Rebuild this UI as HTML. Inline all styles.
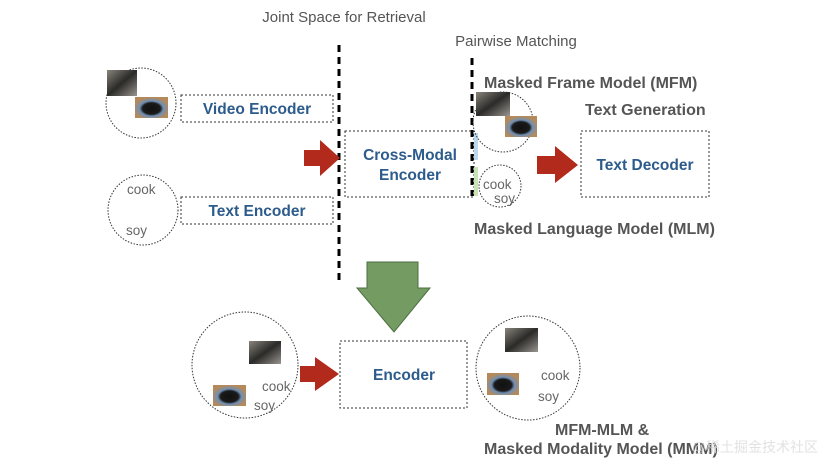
<!DOCTYPE html>
<html><head><meta charset="utf-8"><style>
body{margin:0;background:#fff;}
svg{display:block;font-family:"Liberation Sans",Arial,sans-serif;}
.b{font-weight:bold;fill:#2c5b8c;font-size:15.5px;}
.g{font-weight:bold;fill:#555;font-size:16px;}
.w{fill:#666;font-size:13.5px;}
</style></head><body>
<svg width="831" height="472" viewBox="0 0 831 472">
<defs>
<linearGradient id="i1" x1="0" y1="0" x2="1" y2="1"><stop offset="0" stop-color="#8a857c"/><stop offset=".5" stop-color="#2a2a28"/><stop offset="1" stop-color="#9a9590"/></linearGradient>
<radialGradient id="i2" cx=".5" cy=".55" r=".6"><stop offset="0" stop-color="#111"/><stop offset=".45" stop-color="#1a1a1a"/><stop offset=".6" stop-color="#6f8fb5"/><stop offset=".9" stop-color="#b58a5a"/></radialGradient>
</defs>
<text x="344" y="22" text-anchor="middle" fill="#555" font-size="15">Joint Space for Retrieval</text>
<text x="516" y="46" text-anchor="middle" fill="#555" font-size="15">Pairwise Matching</text>
<line x1="339" y1="45" x2="339" y2="282" stroke="#000" stroke-width="3" stroke-dasharray="7,5"/>
<line x1="472" y1="58" x2="472" y2="196" stroke="#000" stroke-width="3" stroke-dasharray="7,5"/>
<circle cx="141" cy="103" r="35" fill="none" stroke="#333" stroke-dasharray="1.5,1.5"/>
<rect x="107" y="70" width="30" height="26" fill="url(#i1)"/>
<rect x="135" y="97" width="33" height="21" fill="url(#i2)"/>
<rect x="181" y="95" width="152" height="27" fill="none" stroke="#333" stroke-dasharray="2,2"/>
<text x="257" y="114" text-anchor="middle" class="b">Video Encoder</text>
<circle cx="143" cy="210" r="35" fill="none" stroke="#333" stroke-dasharray="1.5,1.5"/>
<text x="127" y="194" class="w">cook</text><text x="126" y="235" class="w">soy</text>
<rect x="181" y="197" width="152" height="27" fill="none" stroke="#333" stroke-dasharray="2,2"/>
<text x="257" y="216" text-anchor="middle" class="b">Text Encoder</text>
<polygon points="304,150 320,150 320,140 340,158 320,176 320,166 304,166" fill="#b22a1c"/>
<rect x="345" y="131" width="129" height="66" fill="none" stroke="#333" stroke-dasharray="2,2"/>
<text x="410" y="160" text-anchor="middle" class="b">Cross-Modal</text>
<text x="410" y="180" text-anchor="middle" class="b">Encoder</text>
<rect x="474" y="133" width="4" height="27" fill="#bcd8ef"/>
<rect x="474" y="167" width="4" height="29" fill="#c9e2b6"/>
<text x="484" y="88" class="g">Masked Frame Model (MFM)</text>
<circle cx="503" cy="122" r="30" fill="none" stroke="#333" stroke-dasharray="1.5,1.5"/>
<rect x="476" y="92" width="34" height="24" fill="url(#i1)"/>
<rect x="505" y="116" width="32" height="21" fill="url(#i2)"/>
<circle cx="500" cy="186" r="21" fill="none" stroke="#333" stroke-dasharray="1.5,1.5"/>
<text x="483" y="189" class="w">cook</text><text x="494" y="203" class="w">soy</text>
<text x="585" y="115" class="g">Text Generation</text>
<polygon points="537,156 555,156 555,146 578,165 555,183 555,174 537,174" fill="#b22a1c"/>
<rect x="581" y="131" width="128" height="66" fill="none" stroke="#333" stroke-dasharray="2,2"/>
<text x="645" y="170" text-anchor="middle" class="b">Text Decoder</text>
<text x="474" y="234" class="g">Masked Language Model (MLM)</text>
<polygon points="367,262 418,262 418,288 430,288 394,332 357,288 367,288" fill="#739b62" stroke="#4d6f40"/>
<circle cx="245" cy="365" r="53" fill="none" stroke="#333" stroke-dasharray="1.5,1.5"/>
<rect x="249" y="341" width="32" height="23" fill="url(#i1)"/>
<rect x="213" y="385" width="33" height="21" fill="url(#i2)"/>
<text x="262" y="391" class="w">cook</text><text x="254" y="410" class="w">soy</text>
<polygon points="300,366 315,366 315,357 339,374 315,391 315,382 300,382" fill="#b22a1c"/>
<rect x="340" y="341" width="127" height="67" fill="none" stroke="#333" stroke-dasharray="2,2"/>
<text x="404" y="380" text-anchor="middle" class="b">Encoder</text>
<circle cx="528" cy="368" r="52" fill="none" stroke="#333" stroke-dasharray="1.5,1.5"/>
<rect x="505" y="328" width="33" height="24" fill="url(#i1)"/>
<rect x="487" y="373" width="32" height="22" fill="url(#i2)"/>
<text x="541" y="380" class="w">cook</text><text x="538" y="401" class="w">soy</text>
<text x="555" y="435" class="g">MFM-MLM &amp;</text>
<text x="484" y="454" class="g">Masked Modality Model (MMM)</text>
<text x="818" y="452" text-anchor="end" fill="#ddd" font-size="14" style="font-family:'Liberation Sans','Noto Sans CJK SC',sans-serif" opacity=".85">@稀土掘金技术社区</text>
</svg>
</body></html>
